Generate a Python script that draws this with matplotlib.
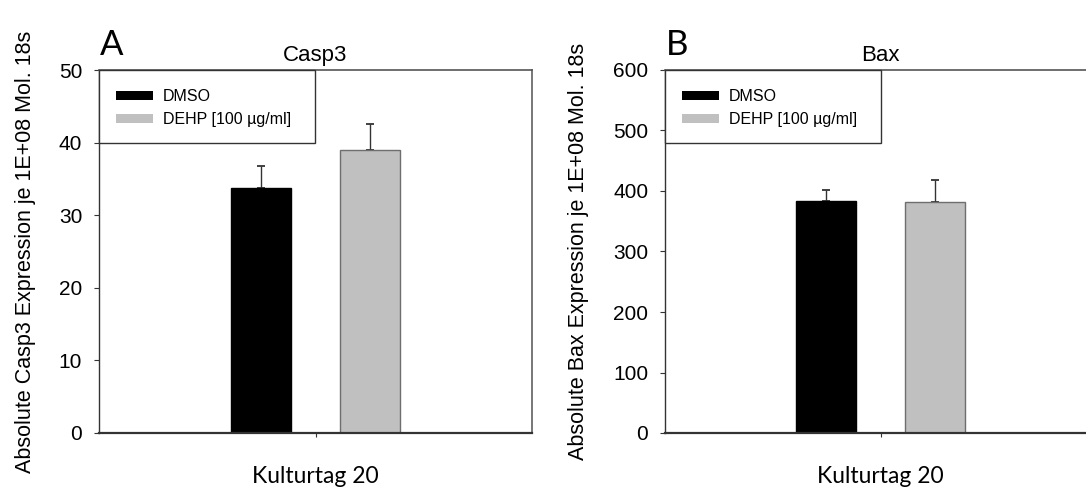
"""Casp3 und Bax Expression, Kulturtag 20: DMSO vs. DEHP."""
import matplotlib
matplotlib.use("Agg")
import matplotlib.pyplot as plt
from matplotlib.patches import Rectangle, Patch

# Daten
groups = ["DMSO", "DEHP [100 µg/ml]"]
colors = ["black", "#c0c0c0"]
edge_colors = ["black", "#6e6e6e"]
day_label = "Kulturtag 20"

casp3_mean = [33.8, 39.0]
casp3_err = [3.0, 3.6]
bax_mean = [384, 381]
bax_err = [17, 37]

panels = [
    ("A", "Casp3", casp3_mean, casp3_err, 50, 10,
     "Absolute Casp3 Expression je 1E+08 Mol. 18s", 36),
    ("B", "Bax", bax_mean, bax_err, 600, 100,
     "Absolute Bax Expression je 1E+08 Mol. 18s", 589),
]

ARIAL = "Liberation Sans"
CALIBRI = "Lato"

fig = plt.figure(figsize=(10.86, 4.91), dpi=100)
W, H = 1086, 491

# Achsenpositionen in Pixel (links, unten, breite, hoehe)
boxes = [(99, 58, 433, 363), (665, 58, 431, 363)]

for (letter, title, mean, err, ymax, ystep, ylabel, ylab_x), (x0, y0, w, h) in zip(panels, boxes):
    ax = fig.add_axes([x0 / W, y0 / H, w / W, h / H])
    offsets = [-0.252, 0.252]
    width = 0.277
    for i in range(2):
        ax.bar(offsets[i], mean[i], width=width, color=colors[i],
               edgecolor=edge_colors[i], linewidth=1, zorder=2)
        ax.errorbar(offsets[i], mean[i], yerr=[[0], [err[i]]], fmt="none",
                    ecolor="#333333", elinewidth=1, capsize=3.2, capthick=1.3, zorder=1)
    ax.set_xlim(-1, 1)
    ax.set_ylim(0, ymax)
    ax.set_yticks(range(0, ymax + 1, ystep))
    ax.set_xticks([0])
    ax.set_xticklabels([""])
    ax.tick_params(axis="y", direction="out", length=3.6, width=0.8, colors="#333333",
                   labelsize=15, labelcolor="black", pad=8.5)
    ax.tick_params(axis="x", direction="out", length=3, width=0.8, colors="#333333")
    for lab in ax.get_yticklabels():
        lab.set_fontfamily(ARIAL)

    ax.spines["left"].set_color("#333333")
    ax.spines["left"].set_linewidth(1.0)
    ax.spines["bottom"].set_color("#333333")
    ax.spines["bottom"].set_linewidth(1.6)
    ax.spines["top"].set_color("#555555")
    ax.spines["top"].set_linewidth(1.2)
    ax.spines["right"].set_color("#777777")
    ax.spines["right"].set_linewidth(1.4)

    ax.set_title(title, fontsize=16, fontfamily=ARIAL, pad=6.5)
    ax.set_ylabel(ylabel, fontsize=15.5, fontfamily=ARIAL)
    ax.yaxis.set_label_coords((ylab_x - x0) / w, 0.5)
    ax.set_xlabel(day_label, fontsize=16.5, fontfamily=CALIBRI, labelpad=17)
    ax.text(1 / w, 1 + 15 / h, letter, transform=ax.transAxes, fontsize=25,
            fontfamily=CALIBRI, ha="left", va="baseline")

    # Legendenrahmen
    ax.add_patch(Rectangle((0, 1 - 73 / h), 216 / w, 73 / h, transform=ax.transAxes,
                           facecolor="white", edgecolor="#333333", linewidth=1.0,
                           zorder=3, clip_on=False))
    handles = [Patch(facecolor=colors[i], edgecolor="none") for i in range(2)]
    leg = ax.legend(handles, groups, loc="upper left", bbox_to_anchor=(17 / w, 1 - 19 / h),
                    frameon=False, prop={"family": ARIAL, "size": 11.5},
                    handlelength=2.3, handleheight=0.55, handletextpad=0.62,
                    labelspacing=0.5, borderaxespad=0, borderpad=0)
    leg.set_zorder(4)

fig.savefig("out.png", dpi=100)
